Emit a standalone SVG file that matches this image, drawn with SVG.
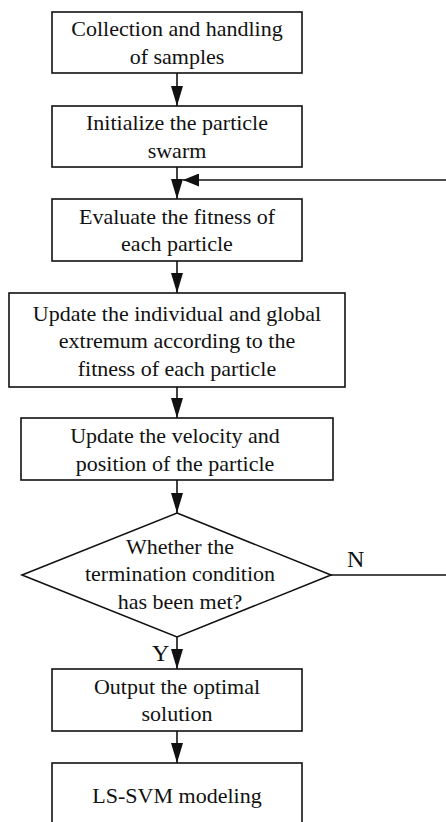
<svg xmlns="http://www.w3.org/2000/svg" width="446" height="822" viewBox="0 0 446 822">
  <style>
    .box { fill: #ffffff; stroke: #111111; stroke-width: 1.6; }
    .lbl { font-family: "Liberation Serif", "Times New Roman", serif; font-size: 22px; fill: #111111; text-anchor: middle; }
    .yn { font-family: "Liberation Serif", "Times New Roman", serif; font-size: 24px; fill: #111111; }
    .edge { fill: none; stroke: #111111; stroke-width: 1.6; }
  </style>
  <defs>
    <marker id="arrow" viewBox="0 0 20 12" refX="20" refY="6" markerWidth="20" markerHeight="12" markerUnits="userSpaceOnUse" orient="auto">
      <path d="M0,0 L20,6 L0,12 z" fill="#111111"/>
    </marker>
    <marker id="arrowS" viewBox="0 0 16 13" refX="16" refY="6.5" markerWidth="16" markerHeight="13" markerUnits="userSpaceOnUse" orient="auto">
      <path d="M0,0 L16,6.5 L0,13 z" fill="#111111"/>
    </marker>
  </defs>
  <rect width="446" height="822" fill="#ffffff"/>

  <g id="connectors">
    <line class="edge" x1="177" y1="73" x2="177" y2="106" marker-end="url(#arrow)"/>
    <line class="edge" x1="177" y1="167" x2="177" y2="199" marker-end="url(#arrow)"/>
    <line class="edge" x1="177" y1="261" x2="177" y2="293" marker-end="url(#arrow)"/>
    <line class="edge" x1="177" y1="387" x2="177" y2="418" marker-end="url(#arrow)"/>
    <line class="edge" x1="177" y1="480" x2="177" y2="513" marker-end="url(#arrow)"/>
    <line class="edge" x1="177" y1="637" x2="177" y2="669" marker-end="url(#arrow)"/>
    <line class="edge" x1="177" y1="731" x2="177" y2="763" marker-end="url(#arrow)"/>
    <line class="edge" x1="446" y1="180" x2="183" y2="180" marker-end="url(#arrowS)"/>
    <line class="edge" x1="331" y1="575" x2="446" y2="575"/>
    <text class="yn" x="347" y="567">N</text>
    <text class="yn" x="152" y="661">Y</text>
  </g>

  <g id="n1">
    <rect class="box" x="52" y="12" width="250" height="61"/>
    <text class="lbl" x="177" y="36">Collection and handling</text>
    <text class="lbl" x="177" y="63.5">of samples</text>
  </g>
  <g id="n2">
    <rect class="box" x="52" y="106" width="250" height="61"/>
    <text class="lbl" x="177" y="130">Initialize the particle</text>
    <text class="lbl" x="177" y="157.5">swarm</text>
  </g>
  <g id="n3">
    <rect class="box" x="52" y="199" width="250" height="62"/>
    <text class="lbl" x="177" y="223.5">Evaluate the fitness of</text>
    <text class="lbl" x="177" y="251">each particle</text>
  </g>
  <g id="n4">
    <rect class="box" x="9" y="293" width="336" height="94"/>
    <text class="lbl" x="177" y="320.5">Update the individual and global</text>
    <text class="lbl" x="177" y="348">extremum according to the</text>
    <text class="lbl" x="177" y="375.5">fitness of each particle</text>
  </g>
  <g id="n5">
    <rect class="box" x="21" y="418" width="312" height="62"/>
    <text class="lbl" x="175" y="443">Update the velocity and</text>
    <text class="lbl" x="175" y="470.5">position of the particle</text>
  </g>
  <g id="n6">
    <polygon class="box" points="177,513 331,575 177,637 22,575"/>
    <text class="lbl" x="180" y="553.5">Whether the</text>
    <text class="lbl" x="180" y="581">termination condition</text>
    <text class="lbl" x="180" y="608.5">has been met?</text>
  </g>
  <g id="n7">
    <rect class="box" x="52" y="669" width="250" height="62"/>
    <text class="lbl" x="177" y="693.5">Output the optimal</text>
    <text class="lbl" x="177" y="721">solution</text>
  </g>
  <g id="n8">
    <rect class="box" x="52" y="763" width="250" height="64"/>
    <text class="lbl" x="177" y="803">LS-SVM modeling</text>
  </g>
</svg>
